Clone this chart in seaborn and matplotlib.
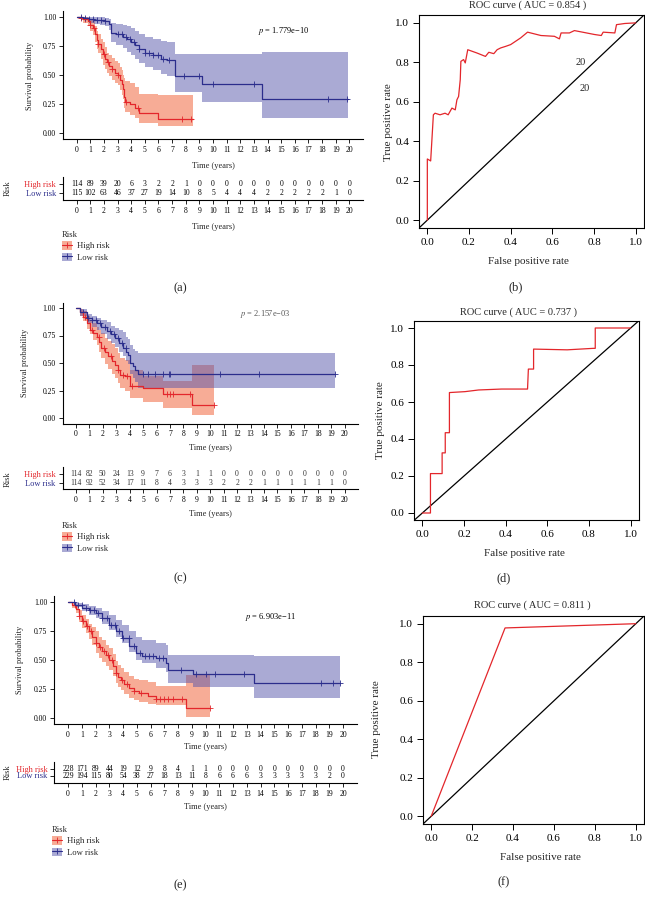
import numpy as np
import matplotlib
matplotlib.use("Agg")
import matplotlib.pyplot as plt
import seaborn as sns
from matplotlib.patches import Patch
from matplotlib.lines import Line2D

# ---------------- data ----------------
YEARS = list(range(21))

# (a) KM curves: time, survival, lower CI, upper CI
A_HIGH_T = [0, 0.3, 0.5, 0.8, 1.0, 1.2, 1.35, 1.5, 1.6, 1.75, 1.9, 2.05, 2.2, 2.4, 2.6, 2.8, 3.0, 3.15, 3.3, 3.4, 3.5, 3.55, 3.9, 4.3, 4.6, 6.0, 8.5]
A_HIGH_S = [1.0, 0.99, 0.98, 0.96, 0.93, 0.90, 0.85, 0.80, 0.77, 0.72, 0.68, 0.64, 0.61, 0.58, 0.55, 0.52, 0.50, 0.46, 0.42, 0.38, 0.31, 0.27, 0.25, 0.22, 0.17, 0.12, 0.12]
A_HIGH_LO = [1.0, 0.97, 0.95, 0.92, 0.88, 0.84, 0.78, 0.72, 0.69, 0.64, 0.59, 0.55, 0.52, 0.49, 0.46, 0.43, 0.41, 0.37, 0.33, 0.29, 0.22, 0.18, 0.16, 0.13, 0.09, 0.06, 0.06]
A_HIGH_HI = [1.0, 1.0, 1.0, 0.99, 0.97, 0.96, 0.92, 0.88, 0.85, 0.81, 0.78, 0.74, 0.69, 0.67, 0.65, 0.62, 0.60, 0.57, 0.54, 0.50, 0.47, 0.45, 0.43, 0.40, 0.34, 0.33, 0.33]
A_HIGH_CENS = [0.3, 0.6, 1.0, 1.3, 1.6, 2.0, 2.3, 2.6, 3.0, 3.6, 4.5, 7.7, 8.4]

A_LOW_T = [0, 0.2, 0.5, 0.9, 1.3, 1.7, 2.1, 2.4, 2.55, 2.9, 3.4, 3.7, 4.0, 4.3, 4.6, 5.0, 5.6, 6.2, 6.6, 7.2, 9.2, 13.6, 19.9]
A_LOW_S = [1.0, 0.995, 0.99, 0.98, 0.975, 0.97, 0.96, 0.94, 0.86, 0.85, 0.83, 0.81, 0.78, 0.76, 0.72, 0.69, 0.67, 0.64, 0.63, 0.49, 0.42, 0.29, 0.29]
A_LOW_LO = [1.0, 0.98, 0.97, 0.95, 0.94, 0.93, 0.92, 0.89, 0.78, 0.76, 0.73, 0.70, 0.67, 0.64, 0.60, 0.57, 0.54, 0.51, 0.49, 0.35, 0.27, 0.13, 0.13]
A_LOW_HI = [1.0, 1.0, 1.0, 1.0, 1.0, 1.0, 0.99, 0.98, 0.95, 0.94, 0.93, 0.92, 0.90, 0.88, 0.85, 0.83, 0.81, 0.79, 0.78, 0.68, 0.68, 0.70, 0.70]
A_LOW_CENS = [0.3, 0.6, 0.9, 1.2, 1.5, 1.8, 2.1, 3.0, 3.3, 3.6, 3.9, 4.2, 4.6, 5.0, 5.3, 5.6, 6.0, 6.3, 6.8, 7.9, 9.0, 10.0, 13.0, 18.4, 19.8]

A_HIGH_N = [114, 89, 39, 20, 6, 3, 2, 2, 1, 0, 0, 0, 0, 0, 0, 0, 0, 0, 0, 0, 0]
A_LOW_N = [115, 102, 63, 46, 37, 27, 19, 14, 10, 8, 5, 4, 4, 4, 2, 2, 2, 2, 2, 1, 0]

# (c)
C_HIGH_T = [0, 0.3, 0.55, 0.8, 1.04, 1.3, 1.54, 1.75, 1.9, 2.15, 2.4, 2.65, 2.9, 3.1, 3.27, 3.64, 4.0, 4.06, 5.0, 6.5, 8.65, 10.26]
C_HIGH_S = [1.0, 0.96, 0.92, 0.86, 0.80, 0.77, 0.74, 0.69, 0.64, 0.60, 0.56, 0.52, 0.485, 0.44, 0.394, 0.379, 0.364, 0.288, 0.273, 0.22, 0.115, 0.115]
C_HIGH_LO = [1.0, 0.93, 0.88, 0.81, 0.76, 0.71, 0.66, 0.60, 0.545, 0.49, 0.45, 0.40, 0.364, 0.32, 0.27, 0.25, 0.24, 0.18, 0.15, 0.09, 0.03, 0.03]
C_HIGH_HI = [1.0, 0.99, 0.97, 0.93, 0.89, 0.86, 0.83, 0.80, 0.77, 0.73, 0.70, 0.67, 0.636, 0.59, 0.545, 0.53, 0.52, 0.44, 0.38, 0.333, 0.485, 0.485]
C_HIGH_CENS = [0.7, 1.2, 1.7, 2.1, 2.6, 3.1, 3.5, 3.8, 4.2, 6.8, 7.0, 7.2, 8.5, 10.3]

C_LOW_T = [0, 0.3, 0.8, 1.2, 1.54, 1.9, 2.28, 2.6, 2.9, 3.2, 3.52, 3.75, 3.9, 4.06, 4.25, 4.4, 4.63, 19.3]
C_LOW_S = [1.0, 0.96, 0.91, 0.89, 0.864, 0.83, 0.79, 0.76, 0.727, 0.68, 0.636, 0.60, 0.576, 0.50, 0.47, 0.44, 0.403, 0.403]
C_LOW_LO = [1.0, 0.93, 0.86, 0.83, 0.80, 0.76, 0.72, 0.68, 0.65, 0.60, 0.56, 0.52, 0.49, 0.40, 0.36, 0.33, 0.273, 0.273]
C_LOW_HI = [1.0, 0.99, 0.95, 0.93, 0.91, 0.89, 0.87, 0.84, 0.82, 0.80, 0.78, 0.74, 0.72, 0.66, 0.63, 0.61, 0.59, 0.59]
C_LOW_CENS = [0.5, 0.9, 1.2, 1.5, 1.8, 2.2, 2.5, 2.8, 3.1, 3.4, 3.7, 5.0, 5.4, 5.9, 6.5, 6.9, 7.0, 10.7, 13.6, 19.3]

C_HIGH_N = [114, 82, 50, 24, 13, 9, 7, 6, 3, 1, 1, 0, 0, 0, 0, 0, 0, 0, 0, 0, 0]
C_LOW_N = [114, 92, 52, 34, 17, 11, 8, 4, 3, 3, 3, 2, 2, 2, 1, 1, 1, 1, 1, 1, 0]

# (e)
E_HIGH_T = [0, 0.3, 0.56, 0.8, 1.04, 1.3, 1.53, 1.75, 2.0, 2.25, 2.5, 2.75, 3.0, 3.25, 3.48, 3.65, 3.84, 4.1, 4.45, 4.8, 5.18, 5.8, 6.4, 8.6, 10.3]
E_HIGH_S = [1.0, 0.97, 0.934, 0.88, 0.833, 0.79, 0.747, 0.70, 0.647, 0.61, 0.575, 0.54, 0.503, 0.45, 0.388, 0.35, 0.325, 0.29, 0.259, 0.235, 0.216, 0.19, 0.168, 0.086, 0.086]
E_HIGH_LO = [1.0, 0.95, 0.90, 0.83, 0.776, 0.73, 0.68, 0.63, 0.56, 0.52, 0.48, 0.45, 0.417, 0.36, 0.30, 0.27, 0.244, 0.21, 0.172, 0.155, 0.14, 0.12, 0.11, 0.014, 0.014]
E_HIGH_HI = [1.0, 0.99, 0.96, 0.93, 0.89, 0.85, 0.81, 0.78, 0.747, 0.70, 0.67, 0.63, 0.60, 0.55, 0.49, 0.46, 0.43, 0.40, 0.36, 0.34, 0.33, 0.31, 0.28, 0.37, 0.37]
E_HIGH_CENS = [0.5, 0.8, 1.1, 1.4, 1.7, 2.0, 2.3, 2.6, 2.9, 3.2, 3.5, 3.9, 4.3, 4.8, 5.3, 6.4, 6.7, 7.0, 7.3, 7.6, 8.3, 10.3]

E_LOW_T = [0, 0.5, 1.04, 1.5, 2.0, 2.5, 3.0, 3.5, 3.96, 4.45, 4.93, 5.4, 6.4, 7.12, 7.3, 9.1, 13.5, 19.8]
E_LOW_S = [1.0, 0.975, 0.948, 0.93, 0.905, 0.86, 0.80, 0.747, 0.69, 0.618, 0.56, 0.537, 0.517, 0.474, 0.417, 0.38, 0.30, 0.30]
E_LOW_LO = [1.0, 0.955, 0.92, 0.89, 0.86, 0.81, 0.76, 0.70, 0.647, 0.57, 0.503, 0.47, 0.43, 0.40, 0.30, 0.27, 0.17, 0.17]
E_LOW_HI = [1.0, 0.99, 0.977, 0.965, 0.948, 0.92, 0.89, 0.845, 0.80, 0.75, 0.70, 0.67, 0.647, 0.632, 0.546, 0.546, 0.537, 0.537]
E_LOW_CENS = [0.4, 0.7, 1.0, 1.3, 1.6, 1.9, 2.2, 2.5, 2.8, 3.1, 3.4, 3.7, 4.0, 4.4, 4.8, 5.2, 5.6, 5.9, 6.2, 6.6, 6.9, 8.2, 9.3, 10.0, 10.7, 12.8, 18.4, 19.3, 19.8]

E_HIGH_N = [228, 171, 89, 44, 19, 12, 9, 8, 4, 1, 1, 0, 0, 0, 0, 0, 0, 0, 0, 0, 0]
E_LOW_N = [229, 194, 115, 80, 54, 38, 27, 18, 13, 11, 8, 6, 6, 6, 3, 3, 3, 3, 3, 2, 0]

# ROC curves
B_FPR = [0, 0, 0.016, 0.021, 0.029, 0.037, 0.061, 0.085, 0.10, 0.118, 0.134, 0.142, 0.15, 0.158, 0.161, 0.174, 0.182, 0.194, 0.239, 0.279, 0.295, 0.319, 0.335, 0.352, 0.376, 0.40, 0.424, 0.448, 0.481, 0.545, 0.61, 0.634, 0.642, 0.682, 0.706, 0.803, 0.835, 0.844, 0.90, 0.908, 0.948, 1.0]
B_TPR = [0, 0.31, 0.30, 0.39, 0.534, 0.542, 0.534, 0.542, 0.534, 0.568, 0.559, 0.61, 0.627, 0.712, 0.805, 0.814, 0.797, 0.864, 0.847, 0.83, 0.851, 0.844, 0.864, 0.873, 0.881, 0.89, 0.907, 0.924, 0.953, 0.936, 0.932, 0.919, 0.949, 0.949, 0.961, 0.941, 0.936, 0.953, 0.949, 0.991, 0.997, 1.0]
D_FPR = [0, 0.039, 0.039, 0.095, 0.095, 0.11, 0.11, 0.13, 0.13, 0.205, 0.27, 0.38, 0.505, 0.509, 0.534, 0.534, 0.695, 0.82, 0.83, 0.83, 1.0]
D_TPR = [0, 0, 0.213, 0.213, 0.325, 0.325, 0.434, 0.434, 0.651, 0.656, 0.665, 0.67, 0.67, 0.778, 0.778, 0.886, 0.882, 0.89, 0.89, 1.0, 1.0]
F_FPR = [0, 0.361, 1.0]
F_TPR = [0, 0.978, 1.0]

RED_LINE = "#E3262B"
RED_FILL = "#F05A2E"
BLUE_LINE = "#2B2D8C"
BLUE_FILL = "#5656AB"

sns.set_theme(style="ticks")
plt.rcParams["font.family"] = ["Liberation Serif", "DejaVu Serif"]
plt.rcParams["mathtext.fontset"] = "stix"

W, H = 645, 899
fig = plt.figure(figsize=(W / 100, H / 100), dpi=100)

KM_FS = 6


def px_axes(l, t, r, b):
    return fig.add_axes([l / W, 1 - b / H, (r - l) / W, (b - t) / H])


def ftext(x, y, s, **kw):
    kw.setdefault("ha", "center")
    kw.setdefault("va", "center")
    fig.text(x / W, 1 - y / H, s, **kw)


def km_panel(box, groups, pval, p_xy, pcolor):
    ax = px_axes(*box)
    for t, s, lo, hi, cens, line, fill in groups:
        ax.fill_between(t, lo, hi, step="post", color=fill, alpha=0.5, lw=0)
    for t, s, lo, hi, cens, line, fill in groups:
        sns.lineplot(x=t, y=s, drawstyle="steps-post", estimator=None, sort=False,
                     color=line, lw=0.9, ax=ax)
        idx = np.searchsorted(t, cens, side="right") - 1
        sns.scatterplot(x=cens, y=np.asarray(s)[idx], marker="+", color=line,
                        s=16, linewidth=0.6, ax=ax)
    ax.set_xlim(-1, 21)
    ax.set_ylim(-0.05, 1.05)
    ax.set_xticks(YEARS)
    ax.set_yticks([0, 0.25, 0.5, 0.75, 1.0])
    ax.set_yticklabels(["0.00", "0.25", "0.50", "0.75", "1.00"])
    ax.set_xlabel("")
    ax.set_ylabel("")
    sns.despine(ax=ax)
    for sp in ("left", "bottom"):
        ax.spines[sp].set_linewidth(0.8)
        ax.spines[sp].set_color("black")
    ax.tick_params(direction="out", length=3, width=0.6, labelsize=KM_FS - 0.5, pad=2, colors="black")
    ax.text(p_xy[0], p_xy[1], pval, fontsize=6, color=pcolor, ha="left", va="center")
    return ax


def risk_table(l, r, y_high, y_low, y_top, y_bottom, high_n, low_n, color):
    ax = px_axes(l, y_top, r, y_bottom)
    unit = y_low - y_high
    ax.set_xlim(-1, 21)
    ax.set_ylim(-(y_bottom - y_low) / unit, 1 + (y_high - y_top) / unit)
    for i, (h, lw_) in enumerate(zip(high_n, low_n)):
        ax.text(YEARS[i], 1, str(h), ha="center", va="center", fontsize=KM_FS - 0.5, color=color)
        ax.text(YEARS[i], 0, str(lw_), ha="center", va="center", fontsize=KM_FS - 0.5, color=color)
    ax.set_xticks(YEARS)
    ax.set_yticks([1, 0])
    ax.set_yticklabels(["High risk", "Low risk"])
    sns.despine(ax=ax)
    for sp in ("left", "bottom"):
        ax.spines[sp].set_linewidth(0.8)
        ax.spines[sp].set_color("black")
    ax.tick_params(direction="out", length=3, width=0.6, labelsize=KM_FS - 0.5, pad=2, colors="black")
    ax.tick_params(axis="y", labelsize=KM_FS)
    for lab, c in zip(ax.get_yticklabels(), [RED_LINE, BLUE_LINE]):
        lab.set_color(c)
    return ax


def km_legend(x, y):
    handles = [(Patch(facecolor=RED_FILL, alpha=0.5, edgecolor="none"),
                Line2D([], [], color=RED_LINE, marker="+", lw=0.8, ms=4, mew=0.6)),
               (Patch(facecolor=BLUE_FILL, alpha=0.5, edgecolor="none"),
                Line2D([], [], color=BLUE_LINE, marker="+", lw=0.8, ms=4, mew=0.6))]
    fig.legend(handles, ["High risk", "Low risk"], title="Risk", loc="upper left",
               bbox_to_anchor=(x / W, 1 - y / H), frameon=False, fontsize=6.2,
               title_fontsize=6.2, alignment="left", handlelength=1.2, handleheight=1.2,
               handletextpad=0.5, labelspacing=0.25, borderpad=0, borderaxespad=0)


def roc_panel(box, fpr, tpr, title, title_xy, xlab_xy, ylab_xy):
    ax = px_axes(*box)
    ax.axline((0, 0), slope=1, color="black", lw=0.9)
    sns.lineplot(x=fpr, y=tpr, estimator=None, sort=False, color=RED_LINE, lw=0.9, ax=ax)
    ax.set_xlim(-0.04, 1.04)
    ax.set_ylim(-0.04, 1.04)
    ax.set_xticks([0, 0.2, 0.4, 0.6, 0.8, 1.0])
    ax.set_yticks([0, 0.2, 0.4, 0.6, 0.8, 1.0])
    ax.set_xticklabels(["0.0", "0.2", "0.4", "0.6", "0.8", "1.0"])
    ax.set_yticklabels(["0.0", "0.2", "0.4", "0.6", "0.8", "1.0"])
    ax.set_xlabel("")
    ax.set_ylabel("")
    for sp in ax.spines.values():
        sp.set_visible(True)
        sp.set_linewidth(0.8)
        sp.set_color("black")
    ax.tick_params(direction="out", length=4, width=0.7, labelsize=8, pad=3, colors="black")
    ftext(*title_xy, title, fontsize=7.5)
    ftext(*xlab_xy, "False positive rate", fontsize=8)
    ftext(*ylab_xy, "True positive rate", fontsize=8, rotation=90)
    return ax


# ---------------- (a) ----------------
km_panel((63, 11, 363, 139),
         [(A_HIGH_T, A_HIGH_S, A_HIGH_LO, A_HIGH_HI, A_HIGH_CENS, RED_LINE, RED_FILL),
          (A_LOW_T, A_LOW_S, A_LOW_LO, A_LOW_HI, A_LOW_CENS, BLUE_LINE, BLUE_FILL)],
         "$p$ = 1.779e\u221210", (13.3, 0.88), "black")
ftext(30, 76, "Survival probability", fontsize=KM_FS, rotation=90)
ftext(213, 166, "Time (years)", fontsize=KM_FS)
risk_table(63, 363, 184, 193, 177, 200, A_HIGH_N, A_LOW_N, "black")
ftext(8, 188, "Risk", fontsize=KM_FS, rotation=90)
ftext(213, 227, "Time (years)", fontsize=KM_FS)
km_legend(62, 231)
ftext(180, 288, "(a)", fontsize=9)

# ---------------- (c) ----------------
km_panel((62.5, 302.5, 358, 423.5),
         [(C_HIGH_T, C_HIGH_S, C_HIGH_LO, C_HIGH_HI, C_HIGH_CENS, RED_LINE, RED_FILL),
          (C_LOW_T, C_LOW_S, C_LOW_LO, C_LOW_HI, C_LOW_CENS, BLUE_LINE, BLUE_FILL)],
         "$p$ = 2.157e\u221203", (12.2, 0.945), "#555555")
ftext(25, 363, "Survival probability", fontsize=KM_FS, rotation=90)
ftext(210, 448, "Time (years)", fontsize=KM_FS)
risk_table(62.5, 358, 474, 483, 467, 489.5, C_HIGH_N, C_LOW_N, "#333333")
ftext(8, 479, "Risk", fontsize=KM_FS, rotation=90)
ftext(210, 514, "Time (years)", fontsize=KM_FS)
km_legend(62, 522)
ftext(180, 578, "(c)", fontsize=9)

# ---------------- (e) ----------------
km_panel((54.25, 596, 356.75, 724),
         [(E_HIGH_T, E_HIGH_S, E_HIGH_LO, E_HIGH_HI, E_HIGH_CENS, RED_LINE, RED_FILL),
          (E_LOW_T, E_LOW_S, E_LOW_LO, E_LOW_HI, E_LOW_CENS, BLUE_LINE, BLUE_FILL)],
         "$p$ = 6.903e\u221211", (12.9, 0.87), "black")
ftext(20, 660, "Survival probability", fontsize=KM_FS, rotation=90)
ftext(205, 747, "Time (years)", fontsize=KM_FS)
risk_table(54.25, 356.75, 769, 775.5, 762, 783, E_HIGH_N, E_LOW_N, "black")
ftext(8, 772, "Risk", fontsize=KM_FS, rotation=90)
ftext(205, 807, "Time (years)", fontsize=KM_FS)
km_legend(52, 826)
ftext(180, 885, "(e)", fontsize=9)

# ---------------- ROC panels ----------------
ax_b = roc_panel((419, 15, 644, 228), B_FPR, B_TPR, "ROC curve ( AUC = 0.854 )",
                 (528, 5), (528, 262), (388, 122))
ax_b.text(0.734, 0.80, "20", fontsize=7.5, ha="center", va="center")
ax_b.text(0.754, 0.665, "20", fontsize=7.5, ha="center", va="center")
ftext(516, 287, "(b)", fontsize=9)

roc_panel((414, 320.6, 639, 520.4), D_FPR, D_TPR, "ROC curve ( AUC = 0.737 )",
          (518, 312), (524, 553), (380, 420))
ftext(504, 578, "(d)", fontsize=9)

roc_panel((423, 616, 644, 824), F_FPR, F_TPR, "ROC curve ( AUC = 0.811 )",
          (532, 605), (540, 857), (377, 719))
ftext(504, 882, "(f)", fontsize=9)

fig.savefig("out.png", dpi=100)
